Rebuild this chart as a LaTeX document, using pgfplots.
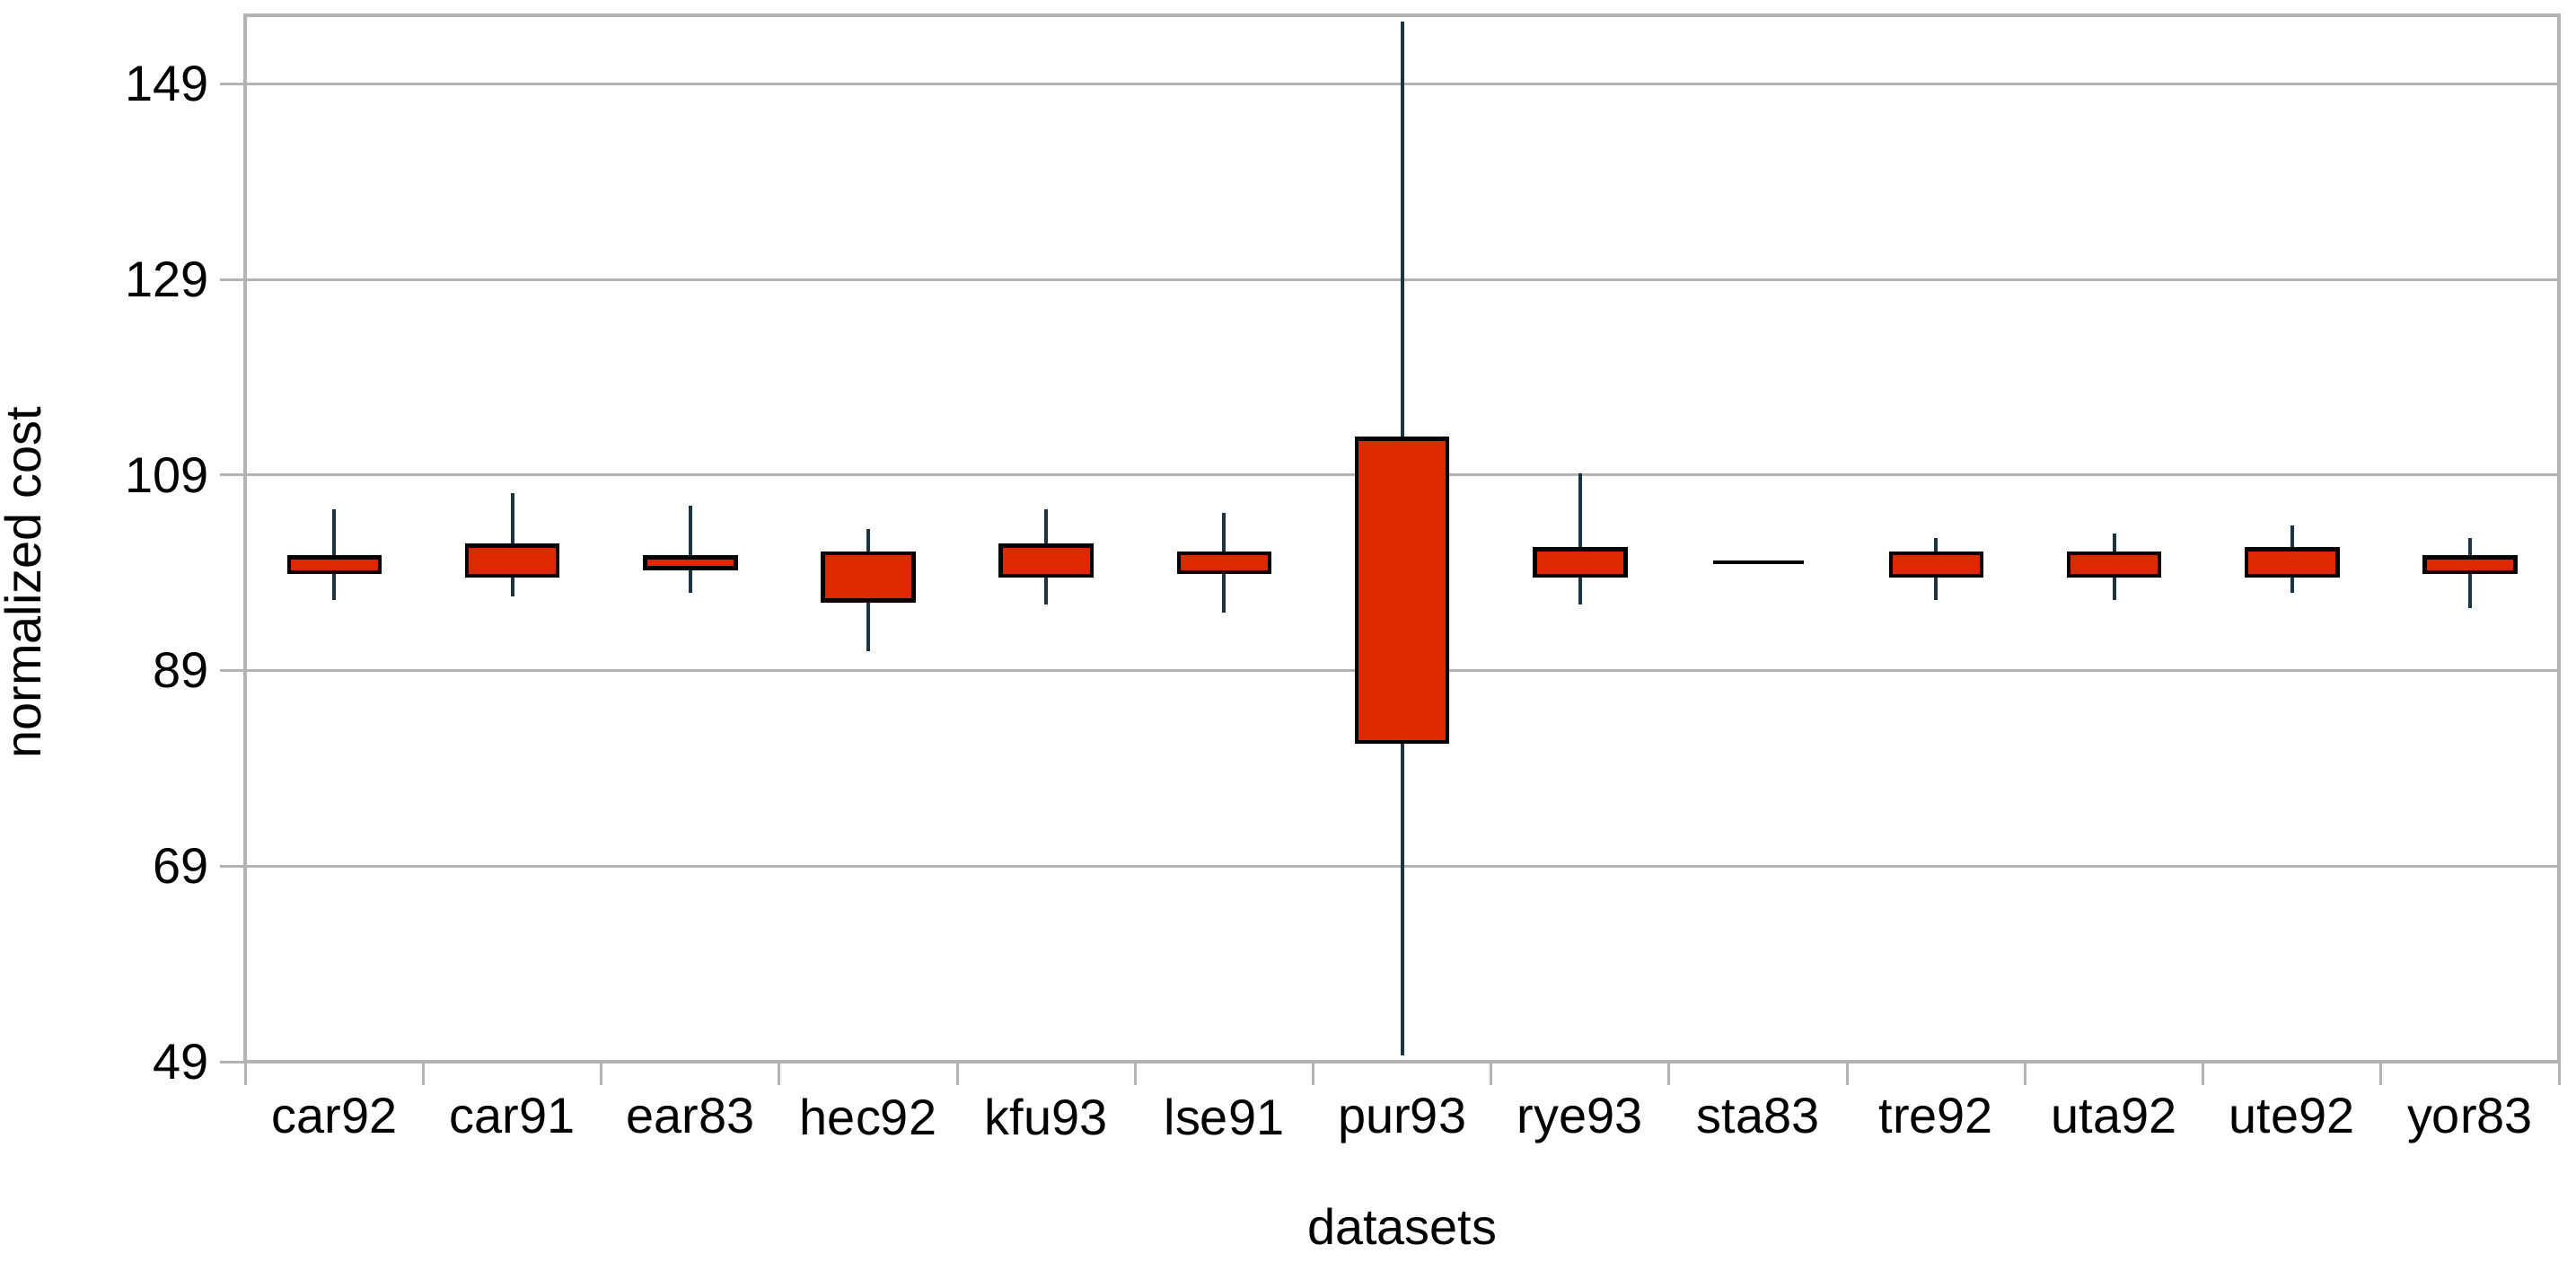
\documentclass[border=0pt]{standalone}
\usepackage{fontspec}
\setmainfont{Liberation Sans}
\usepackage{pgfplots}
\pgfplotsset{compat=1.18}

\definecolor{boxred}{RGB}{221,40,0}
\definecolor{whisk}{RGB}{28,52,66}
\definecolor{gridgray}{RGB}{179,179,179}

\newcommand{\lbl}{\fontsize{15.9}{19}\selectfont}

\pgfplotsset{
    whisker/.style={whisk, line width=0.4mm, mark=none},
    candle/.style={draw=black, fill=boxred, line width=0.45mm, mark=none},
}

\begin{document}
\begin{tikzpicture}
\begin{axis}[
    name=ax,
    scale only axis,
    width=257.7mm, height=116.5mm,
    xmin=-0.5, xmax=12.5,
    ymin=49, ymax=156,
    xtick={0,...,12},
    xticklabels={car92,car91,ear83,hec92,kfu93,lse91,pur93,rye93,sta83,tre92,uta92,ute92,yor83},
    minor xtick={-0.5,0.5,...,12.5},
    ytick={49,69,89,109,129,149},
    tick pos=left,
    tick align=outside,
    major tick length=2.8mm,
    minor tick length=2.6mm,
    tick style={gridgray, line width=0.3mm},
    major x tick style={draw=none},
    ymajorgrids,
    grid style={gridgray, line width=0.3mm},
    axis line style={gridgray, line width=0.4mm},
    /pgf/number format/assume math mode=true,
    tick label style={font=\lbl, text=black},
    xlabel={datasets},
    ylabel={normalized cost},
    every axis x label/.style={at={(axis description cs:0.5,0)}, anchor=base, yshift=-20.3mm, font=\lbl},
    every axis y label/.style={at={(axis description cs:0,0.5)}, xshift=-22.8mm, yshift=-4.9mm, rotate=90, anchor=base, font=\lbl},
]
% whiskers: low to high
\addplot[whisker] coordinates {(0,96.2) (0,105.5)};
\addplot[whisker] coordinates {(1,96.6) (1,107.2)};
\addplot[whisker] coordinates {(2,97.0) (2,105.9)};
\addplot[whisker] coordinates {(3,91.0) (3,103.5)};
\addplot[whisker] coordinates {(4,95.8) (4,105.5)};
\addplot[whisker] coordinates {(5,94.9) (5,105.1)};
\addplot[whisker] coordinates {(6,49.7) (6,155.4)};
\addplot[whisker] coordinates {(7,95.8) (7,109.2)};
\addplot[whisker] coordinates {(9,96.2) (9,102.6)};
\addplot[whisker] coordinates {(10,96.2) (10,103.0)};
\addplot[whisker] coordinates {(11,97.0) (11,103.9)};
\addplot[whisker] coordinates {(12,95.4) (12,102.6)};
% boxes: box bottom to box top, 0.51 wide
\addplot[candle] coordinates {(-0.255,99.1) (0.255,99.1) (0.255,100.6) (-0.255,100.6)} -- cycle;
\addplot[candle] coordinates {(0.745,98.7) (1.255,98.7) (1.255,101.8) (0.745,101.8)} -- cycle;
\addplot[candle] coordinates {(1.745,99.5) (2.255,99.5) (2.255,100.6) (1.745,100.6)} -- cycle;
\addplot[candle] coordinates {(2.745,96.2) (3.255,96.2) (3.255,101.0) (2.745,101.0)} -- cycle;
\addplot[candle] coordinates {(3.745,98.7) (4.255,98.7) (4.255,101.8) (3.745,101.8)} -- cycle;
\addplot[candle] coordinates {(4.745,99.1) (5.255,99.1) (5.255,101.0) (4.745,101.0)} -- cycle;
\addplot[candle] coordinates {(5.745,81.7) (6.255,81.7) (6.255,112.7) (5.745,112.7)} -- cycle;
\addplot[candle] coordinates {(6.745,98.7) (7.255,98.7) (7.255,101.4) (6.745,101.4)} -- cycle;
\addplot[candle] coordinates {(7.745,100.1) (8.255,100.1)};
\addplot[candle] coordinates {(8.745,98.7) (9.255,98.7) (9.255,101.0) (8.745,101.0)} -- cycle;
\addplot[candle] coordinates {(9.745,98.7) (10.255,98.7) (10.255,101.0) (9.745,101.0)} -- cycle;
\addplot[candle] coordinates {(10.745,98.7) (11.255,98.7) (11.255,101.4) (10.745,101.4)} -- cycle;
\addplot[candle] coordinates {(11.745,99.1) (12.255,99.1) (12.255,100.6) (11.745,100.6)} -- cycle;
\end{axis}
\pgfresetboundingbox
\path[use as bounding box] ([shift={(-27.33mm,-22.27mm)}]ax.south west) rectangle ([shift={(1.9mm,1.73mm)}]ax.north east);
\end{tikzpicture}
\end{document}
